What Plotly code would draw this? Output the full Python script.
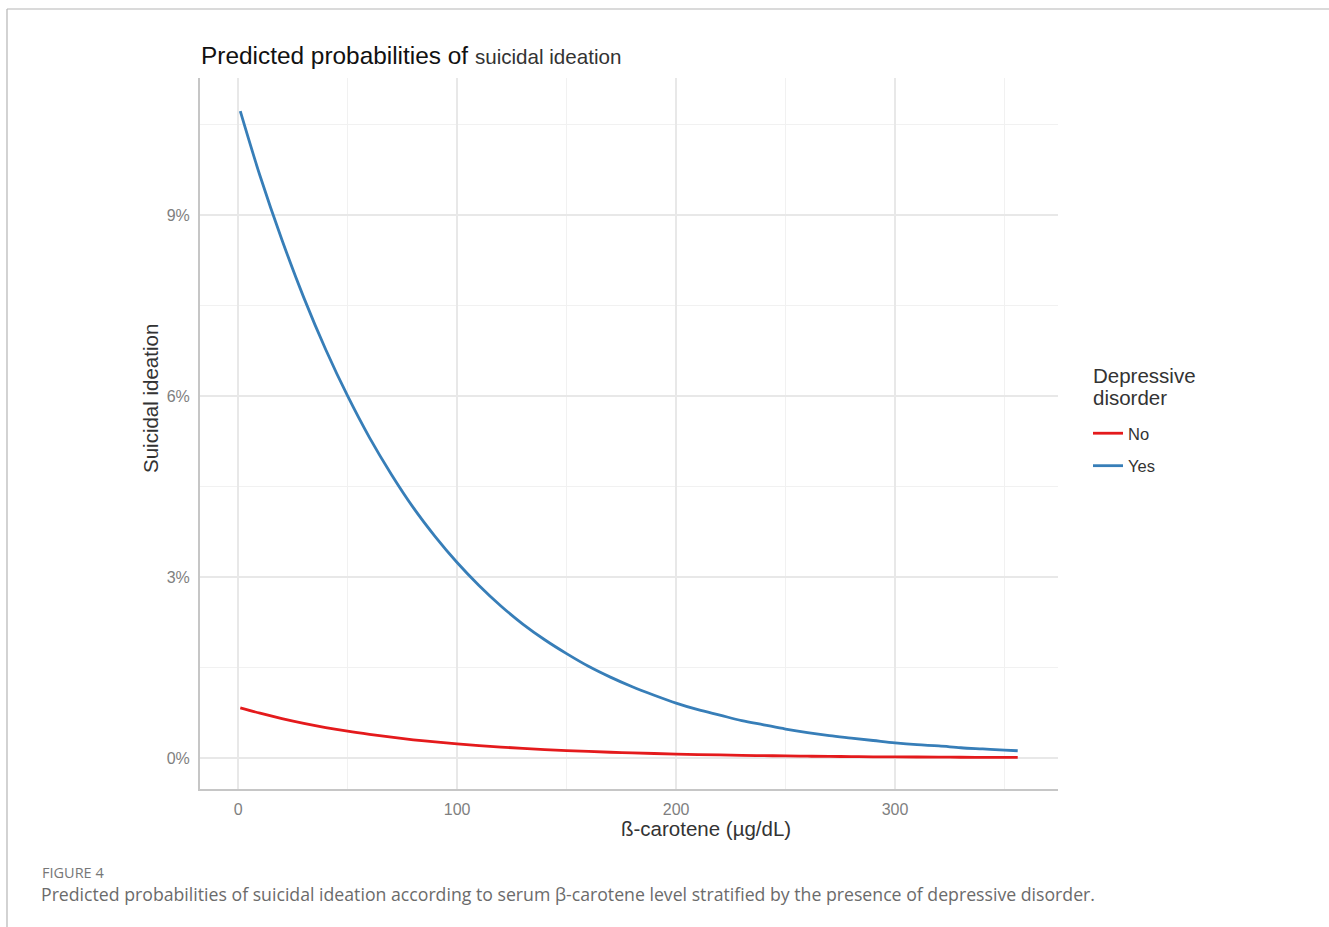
import plotly.graph_objects as go

# beta-carotene (ug/dL)
carotene = [1, 10, 20, 30, 40, 50, 60, 70, 80, 90, 100, 110, 120, 130, 140, 150, 160, 170, 180,
            190, 200, 210, 220, 230, 240, 250, 260, 270, 280, 290, 300, 310, 320, 330, 340, 350, 356]
# predicted probability, depressive disorder = Yes
prob_yes = [0.1072, 0.0965, 0.0859, 0.0763, 0.0677, 0.0600, 0.0531, 0.0470, 0.0415, 0.0367,
            0.0324, 0.0286, 0.0252, 0.0222, 0.0196, 0.0173, 0.0152, 0.0134, 0.0118, 0.0104,
            0.0091, 0.0080, 0.0071, 0.0062, 0.0055, 0.0048, 0.0042, 0.0037, 0.0033, 0.0029,
            0.0025, 0.0022, 0.0020, 0.0017, 0.0015, 0.0013, 0.0012]
# predicted probability, depressive disorder = No
prob_no = [0.0083, 0.00742, 0.00653, 0.00574, 0.00505, 0.00444, 0.00391, 0.00344, 0.00302, 0.00266,
           0.00234, 0.00206, 0.00181, 0.00159, 0.00140, 0.00123, 0.00108, 0.00095, 0.00084, 0.00074,
           0.00065, 0.00057, 0.00050, 0.00044, 0.00039, 0.00034, 0.00030, 0.00026, 0.00023, 0.00020,
           0.00018, 0.00016, 0.00014, 0.00012, 0.00011, 0.00010, 0.00009]

x_ticks = [0, 100, 200, 300]
y_ticks = [0, 0.03, 0.06, 0.09]
y_tick_labels = ["0%", "3%", "6%", "9%"]

W, H = 1329, 927
L, R, T, B = 200, 1058, 78, 789


def px(xp):
    return (xp - L) / (R - L)


def py(yp):
    return (B - yp) / (B - T)


FONT = "Liberation Sans, Arial, sans-serif"

fig = go.Figure()
fig.add_trace(go.Scatter(x=carotene, y=prob_no, mode="lines", name="No", legendgroup="no",
                         line=dict(color="#E41A1C", width=2.8, shape="spline")))
fig.add_trace(go.Scatter(x=carotene, y=prob_yes, mode="lines", name="Yes", legendgroup="yes",
                         line=dict(color="#377EB8", width=2.8, shape="spline")))

fig.update_layout(
    width=W, height=H,
    margin=dict(l=L, r=W - R, t=T, b=H - B, pad=0),
    paper_bgcolor="white", plot_bgcolor="white",
    font=dict(family=FONT),
    showlegend=True,
    legend=dict(
        x=px(1088), y=py(416), xanchor="left", yanchor="top",
        font=dict(size=16.5, color="#333333", family=FONT),
        bgcolor="rgba(0,0,0,0)", itemwidth=30, tracegroupgap=8,
    ),
    xaxis=dict(
        range=[-17.4, 374.4], tickvals=x_ticks, ticktext=[str(v) for v in x_ticks],
        showgrid=True, gridcolor="#e8e8e8", gridwidth=1.6,
        minor=dict(tickvals=[50, 150, 250, 350], showgrid=True, gridcolor="#f1f1f1", gridwidth=1),
        showline=True, linecolor="#c6c6c6", linewidth=2,
        zeroline=False, ticks="outside", ticklen=5, tickcolor="rgba(0,0,0,0)",
        tickfont=dict(size=16, color="#7f7f7f", family=FONT),
    ),
    yaxis=dict(
        range=[-0.00514, 0.1127], tickvals=y_ticks, ticktext=y_tick_labels,
        showgrid=True, gridcolor="#e8e8e8", gridwidth=1.6,
        minor=dict(tickvals=[0.015, 0.045, 0.075, 0.105], showgrid=True, gridcolor="#f1f1f1", gridwidth=1),
        showline=True, linecolor="#c6c6c6", linewidth=2,
        zeroline=False, ticks="outside", ticklen=5, tickcolor="rgba(0,0,0,0)",
        tickfont=dict(size=16, color="#7f7f7f", family=FONT),
    ),
)

annotations = [
    dict(text="Predicted probabilities of <span style='font-size:20.6px;color:#333333'>suicidal ideation</span>",
         x=px(199), y=py(55), xanchor="left", yanchor="middle", showarrow=False,
         font=dict(size=24.4, color="#111111", family=FONT)),
    dict(text="ß-carotene (µg/dL)", x=px(706), y=py(828), xanchor="center", yanchor="middle",
         showarrow=False, font=dict(size=20.5, color="#333333", family=FONT)),
    dict(text="Suicidal ideation", x=px(150), y=py(399), xanchor="center", yanchor="middle",
         textangle=-90, showarrow=False, font=dict(size=20.5, color="#333333", family=FONT)),
    dict(text="Depressive", x=px(1091), y=py(375), xanchor="left", yanchor="middle",
         showarrow=False, font=dict(size=20.5, color="#333333", family=FONT)),
    dict(text="disorder", x=px(1091), y=py(397), xanchor="left", yanchor="middle",
         showarrow=False, font=dict(size=20.5, color="#333333", family=FONT)),
    dict(text="FIGURE 4", x=px(40), y=py(872), xanchor="left", yanchor="middle", showarrow=False,
         font=dict(size=14.5, color="#777777", family="Open Sans, sans-serif")),
    dict(text="Predicted probabilities of suicidal ideation according to serum β-carotene level stratified by the presence of depressive disorder.",
         x=px(39), y=py(894), xanchor="left", yanchor="middle", showarrow=False,
         font=dict(size=17.7, color="#6b6b6b", family="Open Sans, sans-serif")),
]
for a in annotations:
    a["xref"] = "paper"
    a["yref"] = "paper"
fig.update_layout(annotations=annotations)

# page frame lines
fig.add_shape(type="line", xref="paper", yref="paper", x0=px(7), x1=px(1329), y0=py(9), y1=py(9),
              line=dict(color="#b5b5b5", width=1.2), layer="above")
fig.add_shape(type="line", xref="paper", yref="paper", x0=px(7), x1=px(7), y0=py(9), y1=py(927),
              line=dict(color="#b5b5b5", width=1.2), layer="above")

fig.write_html("out.html", config={"displayModeBar": False},
               post_script="document.body.style.margin='0px';")
